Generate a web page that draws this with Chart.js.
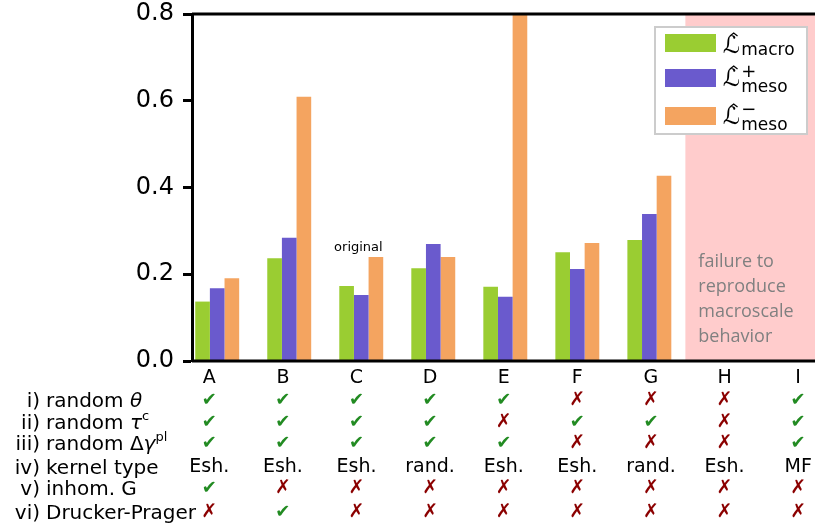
<!DOCTYPE html>
<html>
<head>
    <meta charset="UTF-8">
    <title>Loss comparison</title>
    <script src="https://cdn.jsdelivr.net/npm/chart.js"></script>
    <style>
        html, body { margin: 0; padding: 0; background: #fff; }
        #wrap { width: 815px; height: 526px; }
    </style>
</head>
<body>
<div id="wrap"><canvas id="chart" width="815" height="526"></canvas></div>
<script>
// categories and bar values
const categories = ['A', 'B', 'C', 'D', 'E', 'F', 'G', 'H', 'I'];
const macro     = [0.137, 0.237, 0.173, 0.214, 0.171, 0.251, 0.279, null, null];
const mesoPlus  = [0.168, 0.284, 0.152, 0.270, 0.148, 0.212, 0.339, null, null];
const mesoMinus = [0.191, 0.609, 0.240, 0.240, 0.820, 0.272, 0.427, null, null];
const yTicks = [0.0, 0.2, 0.4, 0.6, 0.8];

// table below the chart (1 = check, 0 = cross)
const randomTheta = [1, 1, 1, 1, 1, 0, 0, 0, 1];
const randomTau   = [1, 1, 1, 1, 0, 1, 1, 0, 1];
const randomGamma = [1, 1, 1, 1, 1, 0, 0, 0, 1];
const kernelType  = ['Esh.', 'Esh.', 'Esh.', 'rand.', 'Esh.', 'Esh.', 'rand.', 'Esh.', 'MF'];
const inhomG      = [1, 0, 0, 0, 0, 0, 0, 0, 0];
const druckerPrager = [0, 1, 0, 0, 0, 0, 0, 0, 0];

const failStart = 6.5;   // shaded region starts between G and H
const failText = ['failure to', 'reproduce', 'macroscale', 'behavior'];

const colors = { macro: '#9acd32', plus: '#6a5acd', minus: '#f4a460' };
const FONT = 'DejaVu Sans';

function toXY(arr) {
    return arr.map((v, i) => ({ x: i, y: v }));
}

// draws a list of text runs left to right
function drawRuns(ctx, runs, x, y) {
    runs.forEach(r => {
        const size = r.sup ? 13 : 20;
        ctx.font = (r.italic ? 'italic ' : '') + size + 'px ' + FONT;
        ctx.fillText(r.t, x, y - (r.sup ? 9 : 0));
        x += ctx.measureText(r.t).width;
    });
}

function drawLHat(ctx, x, y) {
    ctx.font = '24px ' + FONT;
    ctx.textAlign = 'left';
    ctx.fillText('\u2112', x, y);
    const w = ctx.measureText('\u2112').width;
    ctx.beginPath();
    ctx.lineWidth = 1.3;
    ctx.moveTo(x + w * 0.4, y - 17);
    ctx.lineTo(x + w * 0.62, y - 20);
    ctx.lineTo(x + w * 0.84, y - 17);
    ctx.stroke();
    return w;
}

const overlay = {
    id: 'overlay',
    beforeDatasetsDraw(chart) {
        const { ctx, chartArea: a, scales: { x } } = chart;
        const left = x.getPixelForValue(failStart);
        ctx.save();
        ctx.fillStyle = 'rgba(255, 0, 0, 0.2)';
        ctx.fillRect(left, a.top, a.right - left, a.bottom - a.top);
        ctx.fillStyle = '#808080';
        ctx.font = '18px "Open Sans"';
        ctx.textBaseline = 'middle';
        failText.forEach((t, i) => ctx.fillText(t, left + 13, a.top + 248 + i * 25));
        ctx.restore();
    },
    afterDatasetsDraw(chart) {
        const { ctx, chartArea: a, scales: { x, y } } = chart;
        ctx.save();
        // frame
        ctx.strokeStyle = '#000';
        ctx.lineWidth = 3;
        ctx.beginPath();
        ctx.moveTo(a.left, a.top); ctx.lineTo(a.right, a.top);
        ctx.moveTo(a.left, a.bottom); ctx.lineTo(a.right, a.bottom);
        ctx.stroke();

        // annotation
        ctx.fillStyle = '#000';
        ctx.font = '13px ' + FONT;
        ctx.textAlign = 'center';
        ctx.textBaseline = 'middle';
        ctx.fillText('original', x.getPixelForValue(1.96), y.getPixelForValue(0.261));

        // legend
        const lx = 655, ly = 27;
        ctx.fillStyle = '#fff';
        ctx.fillRect(lx, ly, 152, 107);
        ctx.strokeStyle = '#cccccc';
        ctx.lineWidth = 2;
        ctx.strokeRect(lx, ly, 152, 107);
        const items = [
            { c: colors.macro, sub: 'macro', sup: '' },
            { c: colors.plus, sub: 'meso', sup: '+' },
            { c: colors.minus, sub: 'meso', sup: '\u2212' }
        ];
        ctx.textBaseline = 'alphabetic';
        items.forEach((it, i) => {
            const sy = ly + 7 + i * 35 + (i === 2 ? 3 : 0);
            ctx.fillStyle = it.c;
            ctx.fillRect(lx + 10, sy, 51, 18);
            ctx.fillStyle = '#000';
            ctx.strokeStyle = '#000';
            const base = sy + 19 - (it.sup ? 2 : 0);
            const w = drawLHat(ctx, lx + 68, base);
            ctx.font = '17px ' + FONT;
            ctx.textAlign = 'left';
            ctx.fillText(it.sub, lx + 69 + w, base + (it.sup ? 6 : 2));
            if (it.sup) {
                ctx.font = '18px ' + FONT;
                ctx.fillText(it.sup, lx + 69 + w, base - 9);
            }
        });

        // table below the axis
        const colX = i => x.getPixelForValue(-0.11 + i * 1.022);
        const rowY = [378, 400, 422, 443, 467, 488, 512];
        ctx.textBaseline = 'middle';
        ctx.textAlign = 'center';
        ctx.font = '19px ' + FONT;
        ctx.fillStyle = '#000';
        categories.forEach((c, i) => ctx.fillText(c, colX(i), rowY[0]));

        const marks = [randomTheta, randomTau, randomGamma, null, inhomG, druckerPrager];
        marks.forEach((row, r) => {
            categories.forEach((c, i) => {
                if (row === null) {
                    ctx.font = '19px ' + FONT;
                    ctx.fillStyle = '#000';
                    ctx.fillText(kernelType[i], colX(i), rowY[r + 1]);
                } else if (row[i]) {
                    ctx.font = '18px ' + FONT;
                    ctx.fillStyle = '#228b22';
                    ctx.fillText('\u2714', colX(i), rowY[r + 1]);
                } else {
                    ctx.font = '19px ' + FONT;
                    ctx.fillStyle = '#8b0000';
                    ctx.fillText('\u2717', colX(i), rowY[r + 1]);
                }
            });
        });

        // row labels
        const labels = [
            ['i)', [{ t: 'random ' }, { t: '\u03b8', italic: true }]],
            ['ii)', [{ t: 'random ' }, { t: '\u03c4', italic: true }, { t: 'c', sup: true }]],
            ['iii)', [{ t: 'random \u0394' }, { t: '\u03b3', italic: true }, { t: 'pl', sup: true }]],
            ['iv)', [{ t: 'kernel type' }]],
            ['v)', [{ t: 'inhom. G' }]],
            ['vi)', [{ t: 'Drucker-Prager' }]]
        ];
        ctx.fillStyle = '#000';
        ctx.textBaseline = 'alphabetic';
        labels.forEach((l, r) => {
            const yy = rowY[r + 1] + 7;
            ctx.font = '20px ' + FONT;
            ctx.textAlign = 'right';
            ctx.fillText(l[0], 40, yy);
            ctx.textAlign = 'left';
            drawRuns(ctx, l[1], 46, yy);
        });
        ctx.restore();
    }
};

new Chart(document.getElementById('chart'), {
    type: 'bar',
    data: {
        datasets: [
            { label: 'macro', data: toXY(macro), backgroundColor: colors.macro },
            { label: 'meso+', data: toXY(mesoPlus), backgroundColor: colors.plus },
            { label: 'meso-', data: toXY(mesoMinus), backgroundColor: colors.minus }
        ]
    },
    options: {
        responsive: false,
        animation: false,
        devicePixelRatio: 1,
        layout: { padding: { top: 14, bottom: 165, right: 0, left: 0 } },
        datasets: {
            bar: { categoryPercentage: 0.61, barPercentage: 1.0, borderWidth: 0 }
        },
        plugins: { legend: { display: false }, tooltip: { enabled: false } },
        scales: {
            x: {
                type: 'linear',
                min: -0.35,
                max: 8.3,
                offset: false,
                display: false
            },
            y: {
                min: 0,
                max: 0.8,
                afterFit(scale) {
                    scale.width = 192;
                    scale.paddingTop = 0;
                    scale.paddingBottom = 0;
                },
                afterBuildTicks(scale) { scale.ticks = yTicks.map(v => ({ value: v })); },
                ticks: {
                    color: '#000',
                    padding: 9,
                    font: { family: FONT, size: 24 },
                    callback: v => v.toFixed(1)
                },
                grid: {
                    drawOnChartArea: false,
                    drawTicks: true,
                    tickLength: 9,
                    tickWidth: 3,
                    tickColor: '#000'
                },
                border: { display: true, width: 3, color: '#000' }
            }
        }
    },
    plugins: [overlay]
});
</script>
</body>
</html>
